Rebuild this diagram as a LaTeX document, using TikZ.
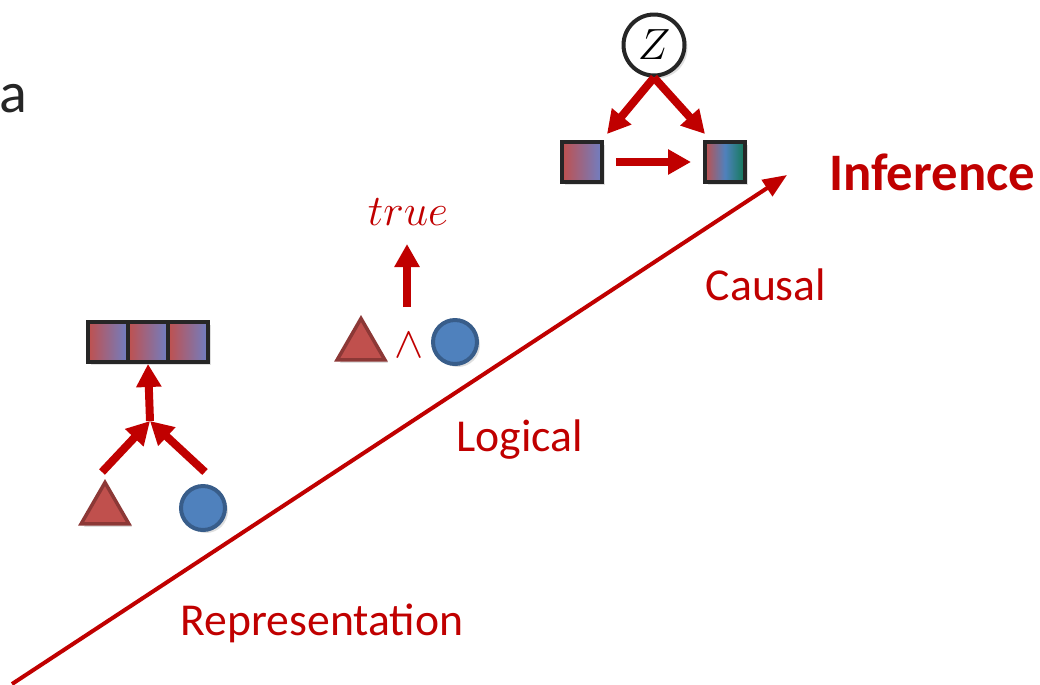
\documentclass[tikz,border=0pt]{standalone}
\usepackage{fontspec}
\setmainfont{Carlito}
\usepackage{xcolor}
\usepackage{tikz}
\usetikzlibrary{arrows.meta,shapes.geometric,shadows}

\definecolor{dred}{HTML}{C00000}
\definecolor{tred}{HTML}{C0504D}
\definecolor{tredb}{HTML}{8C3836}
\definecolor{cblue}{HTML}{4F81BD}
\definecolor{cblueb}{HTML}{385D8A}
\definecolor{sblue}{HTML}{6F7FC4}
\definecolor{sgreen}{HTML}{117A55}
\definecolor{ink}{HTML}{262626}

\begin{document}
\begin{tikzpicture}[x=0.02cm, y=-0.02cm,
  lbl/.style={text=dred, font=\fontsize{26}{30}\selectfont, inner sep=0pt},
  sq/.style={draw=ink, line width=0.08cm, minimum size=0.8cm, inner sep=0pt,
    left color=tred, right color=sblue,
    drop shadow={opacity=0.25, shadow xshift=0.6mm, shadow yshift=-0.6mm}},
  tri/.style={regular polygon, regular polygon sides=3, draw=tredb, fill=tred,
    line width=0.07cm, minimum size=1.1cm, inner sep=0pt,
    drop shadow={opacity=0.25, shadow xshift=0.6mm, shadow yshift=-0.6mm}},
  dot/.style={circle, draw=cblueb, fill=cblue, line width=0.08cm,
    minimum size=0.88cm, inner sep=0pt,
    drop shadow={opacity=0.25, shadow xshift=0.6mm, shadow yshift=-0.6mm}},
  fat/.style={draw=dred, line width=0.16cm, -{Triangle[length=4.6mm, width=4.8mm]}},
  thin/.style={draw=dred, line width=0.08cm, -{Triangle[length=4.8mm, width=3.8mm]}}]
  \useasboundingbox (0,0) rectangle (1040,684);
  % --- axis ---
  \coordinate (o) at (12,684);
  \coordinate (e) at (787,175);
  \draw[thin] (o) -- (e);
  \node[text=ink, font=\fontsize{33}{36}\selectfont, anchor=base west, inner sep=0pt] (cut) at (-1,112) {a};
  \node[lbl, font=\bfseries\fontsize{30}{33}\selectfont] (inf) at (932,172) {Inference};
  \node[lbl] (caus) at (766,285) {Causal};
  \node[lbl] (logi) at (520,440) {Logical};
  \node[lbl] (repr) at (322,623) {Representation};
  % --- representation ---
  \node[sq] (r1) at (108,342) {};
  \node[sq] (r2) at (148,342) {};
  \node[sq] (r3) at (188,342) {};
  \node[tri] (t1) at (105,510) {};
  \node[dot] (c1) at (203,508) {};
  \coordinate (j1) at (150,421);
  \coordinate (a1) at (102,472);
  \coordinate (a2) at (205,472);
  \draw[fat] (j1) -- (r2.south);
  \draw[fat] (a1) -- (j1);
  \draw[fat] (a2) -- (j1);
  % --- logical ---
  \node[tri] (t2) at (361,346) {};
  \node[text=dred, inner sep=0pt, font=\fontsize{26}{30}\selectfont] (and) at (409,345) {$\wedge$};
  \node[dot] (c2) at (455,342) {};
  \node[text=dred, inner sep=0pt, font=\fontsize{25}{28}\selectfont] (tru) at (408,212) {$true$};
  \coordinate (a3) at (407,307);
  \coordinate (a4) at (407,244);
  \draw[fat] (a3) -- (a4);
  % --- causal ---
  \node[circle, draw=ink, fill=white, line width=0.08cm, minimum size=1.22cm, inner sep=0pt,
    font=\fontsize{23}{26}\selectfont,
    drop shadow={opacity=0.25, shadow xshift=0.6mm, shadow yshift=-0.6mm}] (z) at (654,45) {$Z$};
  \node[sq] (x) at (582,162) {};
  \node[sq, right color=sgreen, middle color=cblue] (y) at (725,162) {};
  \coordinate (zl) at (607,134);
  \coordinate (zr) at (705,134);
  \draw[fat] (z.south) -- (zl);
  \draw[fat] (z.south) -- (zr);
  \draw[fat, shorten <=0.24cm, shorten >=0.24cm] (x) -- (y);
\end{tikzpicture}
\end{document}
